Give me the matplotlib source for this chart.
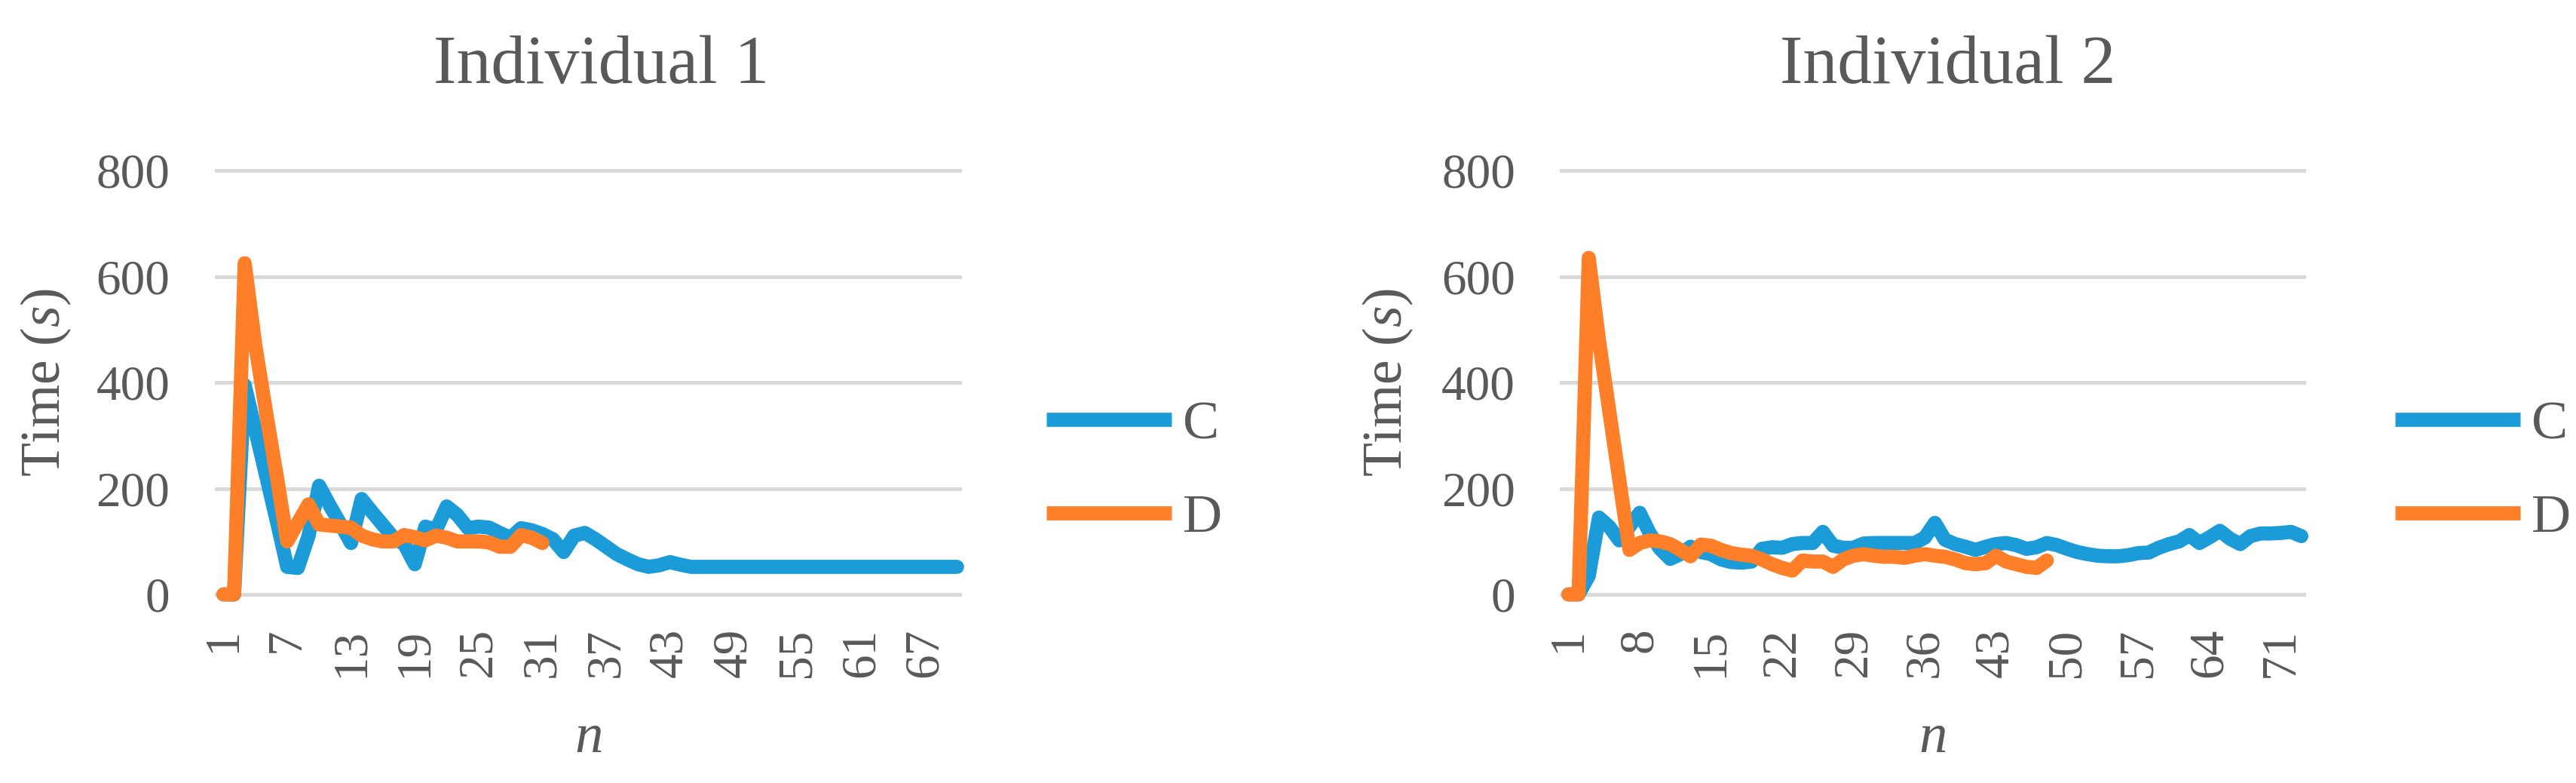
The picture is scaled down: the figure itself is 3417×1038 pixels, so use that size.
import numpy as np
import matplotlib
matplotlib.use("Agg")
import matplotlib.pyplot as plt
from matplotlib.lines import Line2D

plt.rcParams['font.family'] = ['Liberation Serif', 'DejaVu Serif']
plt.rcParams['mathtext.fontset'] = 'custom'
plt.rcParams['mathtext.rm'] = 'Liberation Serif'
plt.rcParams['mathtext.it'] = 'Liberation Serif:italic'

# values (time in s per attempt n)
c1 = [0, 0, 395, 310, 225, 140, 52, 50, 110, 205,
      168, 133, 97, 180, 155, 131, 107, 95, 57, 128,
      122, 166, 150, 125, 128, 126, 116, 107, 125, 121,
      114, 104, 80, 111, 116, 104, 90, 76, 66, 57,
      52, 55, 61, 56, 52, 52, 52, 52, 52, 52,
      52, 52, 52, 52, 52, 52, 52, 52, 52, 52,
      52, 52, 52, 52, 52, 52, 52, 52, 52, 52]
d1 = [0, 0, 625, 470, 345, 225, 100, 135, 170, 132,
      130, 128, 126, 111, 104, 100, 100, 112, 108, 102,
      111, 107, 100, 100, 100, 98, 90, 90, 112, 107,
      97]
c2 = [0, 0, 35, 145, 128, 102, 128, 154, 115, 86,
      67, 76, 90, 80, 76, 66, 61, 60, 62, 86,
      89, 88, 95, 97, 97, 118, 92, 88, 88, 96,
      97, 97, 97, 97, 97, 107, 135, 103, 95, 90,
      84, 90, 95, 97, 93, 86, 89, 97, 93, 86,
      80, 76, 73, 72, 72, 74, 78, 79, 88, 95,
      100, 112, 97, 108, 120, 105, 95, 110, 115, 115,
      116, 118, 110]
d2 = [0, 0, 635, 480, 348, 216, 84, 97, 102, 100,
      95, 84, 72, 94, 92, 84, 78, 75, 73, 66,
      57, 50, 45, 64, 62, 62, 52, 66, 73, 76,
      73, 71, 71, 69, 73, 76, 73, 71, 66, 59,
      57, 59, 73, 62, 57, 52, 50, 64]
xticks1 = list(range(1, 68, 6))
xticks2 = list(range(1, 72, 7))
yticks = [0, 200, 400, 600, 800]
titles = ['Individual 1', 'Individual 2']
series_names = ['C', 'D']

BLUE = '#1B9CD8'
ORANGE = '#FE7F27'
TXT = '#595959'
GRID = '#D9D9D9'
LW = 13.5

W, H = 3417, 1038
fig = plt.figure(figsize=(W / 100, H / 100), dpi=100)

# pixel layout of the two panels: plot left/right, y-label x, title x, legend x
layout = [(286.5, 1273, 61, 798, 1388),
          (2071, 3056, 1841, 2584, 3177)]
data = [(c1, d1, xticks1), (c2, d2, xticks2)]

for (c, d, ticks), title, (left, right, ylab_x, title_x, leg_x) in zip(data, titles, layout):
    ax = fig.add_axes([left / W, 1 - 788 / H, (right - left) / W, (788 - 226) / H])
    ax.plot(np.arange(1, len(c) + 1), c, color=BLUE, lw=LW, solid_joinstyle='round',
            solid_capstyle='round', clip_on=False, zorder=3)
    ax.plot(np.arange(1, len(d) + 1), d, color=ORANGE, lw=LW, solid_joinstyle='round',
            solid_capstyle='round', clip_on=False, zorder=4)
    ax.set_xlim(1 - 0.7, len(c) + 0.25)
    ax.set_ylim(0, 800)
    ax.set_yticks(yticks)
    ax.set_xticks(ticks)
    ax.set_xticklabels([str(t) for t in ticks], rotation=90)
    ax.tick_params(length=0, labelsize=47, labelcolor=TXT)
    ax.tick_params(axis='y', pad=44)
    ax.tick_params(axis='x', pad=32)
    for s in ax.spines.values():
        s.set_visible(False)
    ax.yaxis.grid(True, color=GRID, lw=3.6)
    for gl in ax.get_ygridlines():
        gl.set_clip_on(False)
    ax.set_axisbelow(True)

    fig.text(title_x / W, 1 - 110 / H, title, ha='center', va='baseline',
             fontsize=66, color=TXT)
    fig.text(ylab_x / W, 1 - 507 / H, 'Time ($s$)', rotation=90, ha='center',
             va='center', fontsize=53, color=TXT)
    fig.text((left + right) / 2 / W, 1 - 997 / H, '$n$', ha='center', va='baseline',
             fontsize=54, color=TXT)

    handles = [Line2D([], [], color=BLUE, lw=LW, solid_capstyle='butt'),
               Line2D([], [], color=ORANGE, lw=LW, solid_capstyle='butt')]
    ax.legend(handles, series_names, loc='center left',
              bbox_to_anchor=(leg_x / W, 1 - 625.5 / H), bbox_transform=fig.transFigure,
              frameon=False, borderpad=0, borderaxespad=0, handlelength=2.3,
              handletextpad=0.2, labelspacing=0.8, fontsize=52, labelcolor=TXT)

fig.savefig('out.png', dpi=100)
